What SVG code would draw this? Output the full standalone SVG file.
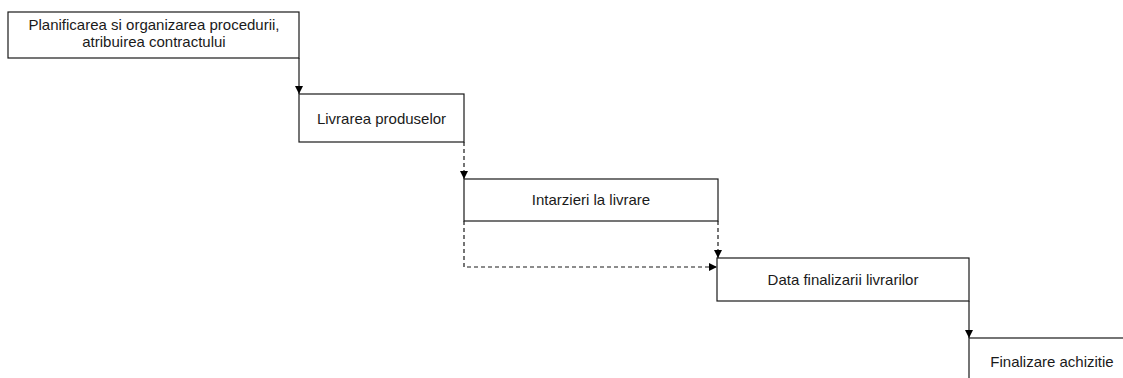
<svg xmlns="http://www.w3.org/2000/svg" width="1123" height="378" viewBox="0 0 1123 378">
  <style>
    .box { fill: #ffffff; stroke: #1a1a1a; stroke-width: 1.2; }
    .lbl { font-family: "Liberation Sans", Arial, sans-serif; font-size: 15px; fill: #1a1a1a; text-anchor: middle; }
    .edge { fill: none; stroke: #1a1a1a; stroke-width: 1.2; }
    .dash { stroke-dasharray: 4 3; }
  </style>
  <defs>
    <marker id="arrow" markerUnits="userSpaceOnUse" markerWidth="9" markerHeight="9" refX="8" refY="4" orient="auto">
      <path d="M0,0 L8,4 L0,8 z" fill="#000000"/>
    </marker>
  </defs>
  <rect width="1123" height="378" fill="#ffffff"/>

  <g id="edges">
    <path class="edge" d="M299,58 V94" marker-end="url(#arrow)"/>
    <path class="edge dash" d="M464,142 V179" marker-end="url(#arrow)"/>
    <path class="edge dash" d="M718,221 V258" marker-end="url(#arrow)"/>
    <path class="edge dash" d="M464,221 V267 H717" marker-end="url(#arrow)"/>
    <path class="edge" d="M969,301 V338" marker-end="url(#arrow)"/>
  </g>

  <g id="planificare">
    <rect class="box" x="8" y="12" width="291" height="46"/>
    <text class="lbl" x="154" y="30">Planificarea si organizarea procedurii,</text>
    <text class="lbl" x="154" y="47">atribuirea contractului</text>
  </g>

  <g id="livrare">
    <rect class="box" x="299" y="94" width="165" height="48"/>
    <text class="lbl" x="381.5" y="123.5">Livrarea produselor</text>
  </g>

  <g id="intarzieri">
    <rect class="box" x="464" y="179" width="254" height="42"/>
    <text class="lbl" x="591" y="205">Intarzieri la livrare</text>
  </g>

  <g id="data-finalizare">
    <rect class="box" x="717" y="258" width="252" height="43"/>
    <text class="lbl" x="843" y="285">Data finalizarii livrarilor</text>
  </g>

  <g id="finalizare">
    <rect class="box" x="969" y="338" width="166" height="48"/>
    <text class="lbl" x="1052" y="367">Finalizare achizitie</text>
  </g>
</svg>
